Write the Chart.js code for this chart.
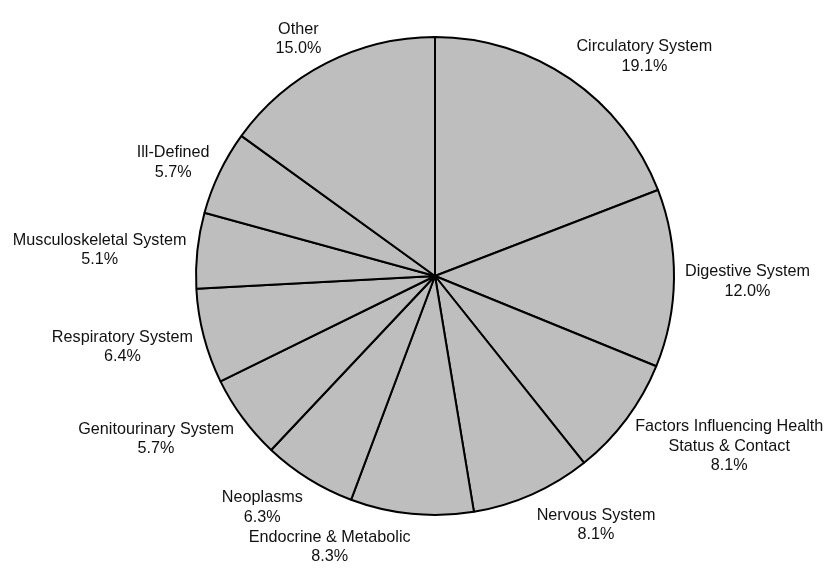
<!DOCTYPE html>
<html>
<head>
<meta charset="utf-8">
<script src="https://cdn.jsdelivr.net/npm/chart.js@4"></script>
<style>
    body { margin: 0; background: #fff; }
    .chart-container { position: relative; width: 832px; height: 569px; }
</style>
</head>
<body>
<div class="chart-container"><canvas id="pieChart"></canvas></div>
<script>
// Categories, clockwise from 12 o'clock
const categories = [
    ['Circulatory System'],
    ['Digestive System'],
    ['Factors Influencing Health', 'Status & Contact'],
    ['Nervous System'],
    ['Endocrine & Metabolic'],
    ['Neoplasms'],
    ['Genitourinary System'],
    ['Respiratory System'],
    ['Musculoskeletal System'],
    ['Ill-Defined'],
    ['Other']
];
const shares = [19.1, 12.0, 8.1, 8.1, 8.3, 6.3, 5.7, 6.4, 5.1, 5.7, 15.0];

const LABEL_FONT = '16.2px "Liberation Sans", Arial, sans-serif';
const LINE_HEIGHT = 19.5;
const LABEL_GAP = 11;
const BASELINE_SHIFT = 3;

// Draw the labels outside each slice
const outsideLabels = {
    id: 'outsideLabels',
    afterDraw(chart) {
        const ctx = chart.ctx;
        const meta = chart.getDatasetMeta(0);
        ctx.save();
        ctx.font = LABEL_FONT;
        ctx.fillStyle = '#111';
        ctx.textAlign = 'center';
        ctx.textBaseline = 'middle';
        meta.data.forEach((arc, i) => {
            const lines = categories[i].concat([shares[i].toFixed(1) + '%']);
            const w = Math.max(...lines.map(l => ctx.measureText(l).width));
            const h = lines.length * LINE_HEIGHT;
            const mid = (arc.startAngle + arc.endAngle) / 2;
            const ux = Math.cos(mid);
            const uy = Math.sin(mid);
            const r = arc.outerRadius + LABEL_GAP;
            const ax = arc.x + r * ux;
            const ay = arc.y + r * uy;
            const left = ux >= 0 ? ax : ax - w;
            const cy = ay + uy * h / 2 + BASELINE_SHIFT;
            lines.forEach((line, k) => {
                ctx.fillText(line, left + w / 2, cy - h / 2 + LINE_HEIGHT * (k + 0.5));
            });
        });
        ctx.restore();
    }
};

const ctx = document.getElementById('pieChart').getContext('2d');
new Chart(ctx, {
    type: 'pie',
    data: {
        labels: categories.map(c => c.join(' ')),
        datasets: [{
            data: shares,
            backgroundColor: '#bebebe',
            borderColor: '#000',
            borderWidth: 2,
            hoverOffset: 0
        }]
    },
    options: {
        responsive: true,
        maintainAspectRatio: false,
        animation: false,
        radius: 239,
        layout: { padding: { left: 38, right: 0, top: 0, bottom: 17 } },
        plugins: {
            legend: { display: false },
            tooltip: { enabled: false }
        }
    },
    plugins: [outsideLabels]
});
</script>
</body>
</html>
